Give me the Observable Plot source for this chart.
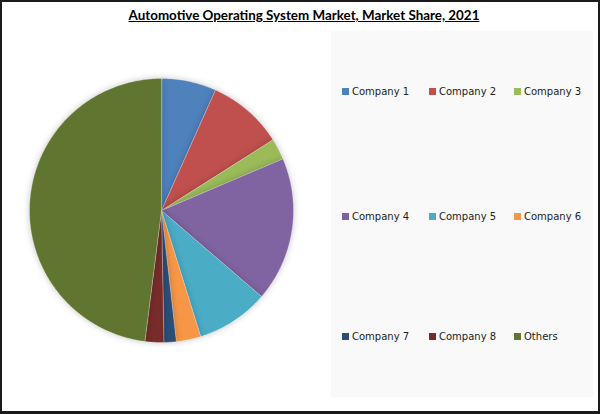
<!DOCTYPE html>
<html>
<head>
<meta charset="utf-8">
<script src="https://cdn.jsdelivr.net/npm/d3@7"></script>
<script src="https://cdn.jsdelivr.net/npm/@observablehq/plot@0.6"></script>
<style>
  html, body { margin: 0; padding: 0; background: #fff; }
  #frame { position: relative; width: 600px; height: 414px; box-sizing: border-box;
           border: 2px solid #1a1a1a; border-bottom-width: 3px; background: #fff; overflow: hidden; }
  #title { position: absolute; left: 0; top: 5px; width: 604px; text-align: center;
           font-family: Lato, "Open Sans", sans-serif; font-weight: bold; font-size: 13.4px;
           text-decoration: underline; color: #000; }
  #legendbox { position: absolute; left: 329px; top: 29px; width: 262px; height: 366px; background: #f9f9f9; }
  .item { position: absolute; font-family: "DejaVu Sans", Verdana, sans-serif; font-size: 10px; color: #222;
          white-space: nowrap; line-height: 12px; }
  .sw { display: inline-block; width: 7px; height: 7px; margin-right: 3px; vertical-align: 0px; }
  #pie { position: absolute; left: 9px; top: 58px; }
  #pie svg path { filter: drop-shadow(0px 0px 3px rgba(0,0,0,0.22)); }
</style>
</head>
<body>
<div id="frame">
  <div id="title"></div>
  <div id="legendbox"></div>
  <div id="pie"></div>
</div>
<script>
const title = "Automotive Operating System Market, Market Share, 2021";
const companies = ["Company 1", "Company 2", "Company 3", "Company 4", "Company 5", "Company 6", "Company 7", "Company 8", "Others"];
const shares = [6.7, 9.3, 2.6, 17.7, 8.9, 3.0, 1.5, 2.3, 48.0];
const colors = ["#4F81BD", "#C0504D", "#9BBB59", "#8064A2", "#4BACC6", "#F79646", "#2C4D75", "#772C2A", "#5F7530"];

document.getElementById("title").textContent = title;

// Slice polygons computed from the share values (clockwise from 12 o'clock)
const pie = d3.pie().sort(null).value(d => d.share);
const arcs = pie(companies.map((name, i) => ({name, share: shares[i]})));
const pts = [];
for (const a of arcs) {
  pts.push({name: a.data.name, x: 0, y: 0});
  const n = Math.max(2, Math.ceil((a.endAngle - a.startAngle) / 0.01));
  for (let k = 0; k <= n; k++) {
    const t = a.startAngle + (a.endAngle - a.startAngle) * k / n;
    pts.push({name: a.data.name, x: Math.sin(t), y: Math.cos(t)});
  }
}

const chart = Plot.plot({
  width: 300, height: 300,
  marginLeft: 18, marginRight: 18, marginTop: 18, marginBottom: 18,
  x: {domain: [-1, 1], axis: null},
  y: {domain: [-1, 1], axis: null},
  color: {domain: companies, range: colors},
  marks: [
    Plot.line(pts, {x: "x", y: "y", z: "name", fill: "name", stroke: "#ffffff", strokeWidth: 0.6,
                    strokeOpacity: 0.5, curve: "linear-closed"})
  ]
});
document.getElementById("pie").appendChild(chart);

// Legend (3 rows of 3)
const colX = [340, 427, 512];
const rowY = [84, 209, 329];
const frame = document.getElementById("frame");
companies.forEach((name, i) => {
  const el = document.createElement("div");
  el.className = "item";
  el.style.left = colX[i % 3] + "px";
  el.style.top = rowY[Math.floor(i / 3)] + "px";
  const sw = document.createElement("span");
  sw.className = "sw";
  sw.style.background = colors[i];
  el.appendChild(sw);
  el.appendChild(document.createTextNode(name));
  frame.appendChild(el);
});
</script>
</body>
</html>
